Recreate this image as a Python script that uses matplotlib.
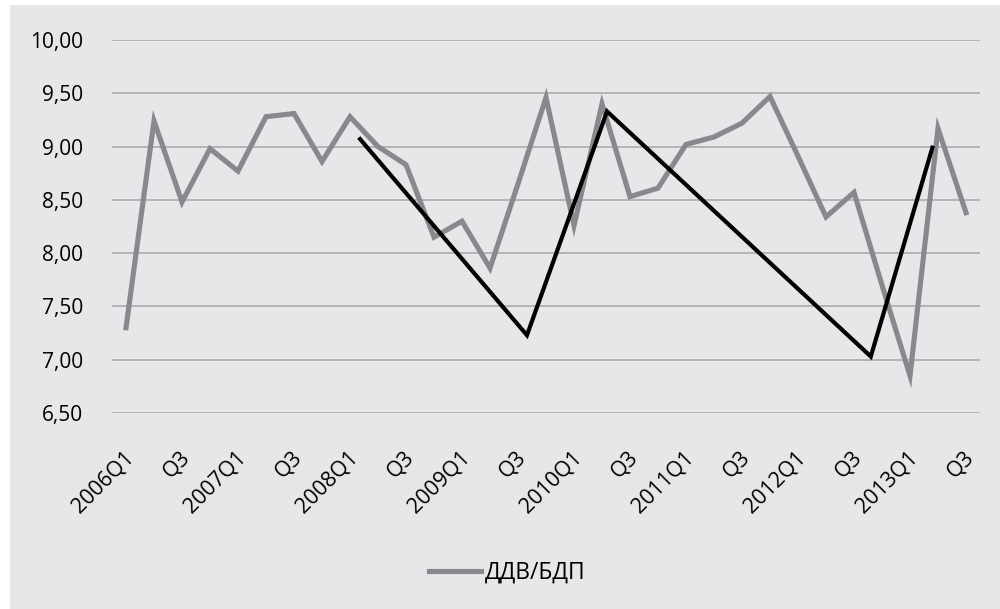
import matplotlib
matplotlib.use("Agg")
import matplotlib.pyplot as plt
from matplotlib.patches import Rectangle
from matplotlib.ticker import FuncFormatter
from matplotlib.transforms import ScaledTranslation

plt.rcParams['font.family'] = ['Open Sans', 'DejaVu Sans']

# quarterly ratio, 2006Q1 .. 2013Q3
quarters = [f"{y}Q{q}" for y in range(2006, 2014) for q in range(1, 5)][:31]
ratio = [7.30, 9.24, 8.48, 8.98, 8.77, 9.28, 9.31, 8.86,
         9.28, 9.00, 8.83, 8.15, 8.30, 7.86, 8.65, 9.46,
         8.26, 9.40, 8.53, 8.61, 9.02, 9.09, 9.22, 9.47,
         8.91, 8.34, 8.57, 7.70, 6.85, 9.17, 8.38]

# hand-drawn trend zigzag (positions in quarter index units)
trend_pos = [8.36, 14.32, 17.18, 26.6, 28.8]
trend_val = [9.07, 7.23, 9.33, 7.03, 8.99]

tick_labels = [q if q.endswith("Q1") else "Q3" for q in quarters[::2]]

fig = plt.figure(figsize=(10, 6.09), dpi=100)
fig.patch.set_facecolor("white")
fig.patches.append(Rectangle((0.010, 0), 0.990, 1 - 5 / 609,
                             transform=fig.transFigure, facecolor="#e6e7e8",
                             edgecolor="none", zorder=-10))

ax = fig.add_axes([0.112, 1 - 413 / 609, 0.868, 373 / 609])
ax.set_facecolor("none")

x = list(range(len(quarters)))
ax.plot(x, ratio, color="#88898c", lw=3.7, label="ДДВ/БДП",
        solid_joinstyle="miter", zorder=3)
ax.plot(trend_pos, trend_val, color="black", lw=3.0, label="_nolegend_",
        solid_joinstyle="miter", zorder=4)

ax.set_xlim(-0.5, len(quarters) - 0.5)
ax.set_ylim(6.5, 10.0)
ax.set_yticks([6.5, 7.0, 7.5, 8.0, 8.5, 9.0, 9.5, 10.0])
ax.yaxis.set_major_formatter(FuncFormatter(lambda v, p: f"{v:.2f}".replace(".", ",")))
ax.grid(axis="y", color="#a5a6a8", lw=1.1)
ax.set_axisbelow(True)

ax.set_xticks(x[::2])
ax.set_xticklabels(tick_labels, rotation=45, ha="right", va="center",
                   rotation_mode="anchor")

for s in ax.spines.values():
    s.set_visible(False)
ax.tick_params(axis="y", length=0, pad=21, labelsize=15)
ax.tick_params(axis="x", length=0, pad=30, labelsize=15.5)

# nudge rotated labels a little to the right
shift = ScaledTranslation(5 / 100, 0, fig.dpi_scale_trans)
for lbl in ax.get_xticklabels():
    lbl.set_transform(lbl.get_transform() + shift)

fig.legend(loc="center", bbox_to_anchor=(0.507, 0.059), frameon=False,
           fontsize=16.5, handlelength=2.3, handletextpad=0.15)

fig.savefig("out.png", dpi=100)
